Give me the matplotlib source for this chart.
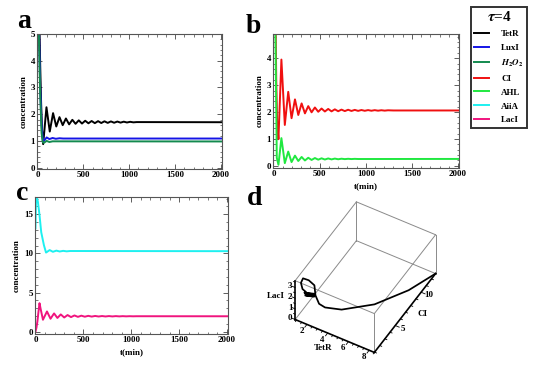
import matplotlib
matplotlib.use("Agg")
import matplotlib.pyplot as plt
import numpy as np
from mpl_toolkits.mplot3d import proj3d

plt.rcParams['font.family'] = ['Liberation Serif', 'DejaVu Serif']
plt.rcParams['font.weight'] = 'bold'
plt.rcParams['mathtext.fontset'] = 'stix'

# ---- panel a: TetR, LuxI, H2O2 (values read at turning points) ----
t_tetr = [0, 10, 20, 30, 40, 50, 62, 98, 134, 170, 205, 240, 275, 310, 345, 380, 415,
          450, 485, 520, 555, 590, 625, 660, 695, 730, 765, 800, 835, 870, 905, 940,
          975, 1010, 1045, 1080, 2000]
tetr = [8.5, 7.5, 5.6, 3.8, 2.4, 1.4, 0.88, 2.26, 1.35, 2.04, 1.54, 1.89, 1.59, 1.84,
        1.62, 1.79, 1.64, 1.77, 1.65, 1.755, 1.66, 1.745, 1.665, 1.74, 1.67, 1.735,
        1.675, 1.73, 1.68, 1.725, 1.685, 1.72, 1.69, 1.715, 1.695, 1.705, 1.70]
t_luxi = [0, 15, 30, 45, 58, 70, 100, 130, 165, 200, 240, 280, 2000]
luxi = [7.0, 5.5, 3.0, 1.6, 1.1, 1.0, 1.13, 1.07, 1.11, 1.08, 1.10, 1.09, 1.09]
t_h2o2 = [0, 15, 30, 45, 58, 70, 100, 130, 165, 2000]
h2o2 = [6.5, 5.0, 2.7, 1.3, 0.95, 0.93, 1.0, 0.96, 0.985, 0.98]

# ---- panel b: CI, AHL ----
t_ci = [0, 10, 20, 30, 40, 54, 86, 123, 160, 196, 233, 269, 305, 341, 377, 413, 449,
        485, 521, 557, 593, 629, 665, 701, 737, 773, 809, 845, 881, 917, 953, 989,
        1025, 1061, 1097, 1133, 1169, 1205, 1241, 1300, 2000]
ci = [12.8, 10.5, 6.5, 3.2, 1.6, 0.99, 3.95, 1.52, 2.75, 1.77, 2.47, 1.89, 2.32, 1.95,
      2.22, 1.99, 2.17, 2.01, 2.13, 2.02, 2.115, 2.025, 2.10, 2.03, 2.09, 2.035, 2.085,
      2.04, 2.08, 2.043, 2.075, 2.046, 2.072, 2.048, 2.07, 2.05, 2.067, 2.052, 2.065,
      2.058, 2.058]
t_ahl = [0, 18, 36, 54, 86, 123, 160, 196, 233, 269, 305, 341, 377, 413, 449, 485, 521,
         557, 593, 629, 665, 701, 737, 773, 809, 845, 881, 917, 2000]
ahl = [8.0, 6.0, 0.3, 0.04, 1.03, 0.10, 0.53, 0.14, 0.38, 0.18, 0.33, 0.20, 0.30, 0.22,
       0.29, 0.23, 0.28, 0.235, 0.275, 0.24, 0.27, 0.245, 0.265, 0.25, 0.262, 0.252,
       0.26, 0.254, 0.257]

# ---- panel c: AiiA, LacI ----
t_aiia = [0, 5, 15, 25, 42, 60, 88, 110, 148, 182, 218, 253, 289, 325, 361, 2000]
aiia = [13.2, 16.5, 17.15, 16.6, 14.9, 12.7, 11.05, 10.1, 10.42, 10.2, 10.35, 10.24,
        10.32, 10.26, 10.3, 10.28]
t_laci = [0, 10, 20, 30, 42, 54, 78, 120, 157, 194, 229, 264, 300, 335, 371, 407, 443,
          479, 515, 551, 587, 623, 659, 695, 731, 767, 803, 839, 875, 911, 947, 983,
          1019, 1055, 2000]
laci = [0.0, 0.5, 1.3, 2.4, 3.64, 2.9, 1.52, 2.58, 1.65, 2.33, 1.75, 2.20, 1.81, 2.12,
        1.86, 2.07, 1.89, 2.04, 1.91, 2.02, 1.925, 2.005, 1.935, 1.995, 1.94, 1.99,
        1.945, 1.985, 1.95, 1.98, 1.955, 1.975, 1.96, 1.97, 1.965]

d_tetr = [8.5, 7.6, 6.0, 4.05, 2.9, 2.5, 2.3, 2.2, 1.8, 1.3, 1.2, 1.3, 1.5,
          1.20, 1.70, 2.14, 1.70, 1.32, 1.70, 2.03, 1.70, 1.41, 1.70, 1.95, 1.70,
          1.49, 1.70, 1.88, 1.70, 1.55, 1.70, 1.82, 1.70, 1.60, 1.70, 1.76, 1.70,
          1.66, 1.70, 1.73, 1.70]
d_ci = [12.8, 9.4, 6.0, 3.55, 2.65, 2.3, 2.0, 2.0, 1.7, 1.6, 1.4, 1.5, 1.8,
        2.06, 3.01, 2.06, 1.24, 2.06, 2.77, 2.06, 1.44, 2.06, 2.52, 2.06, 1.66,
        2.06, 2.40, 2.06, 1.78, 2.06, 2.29, 2.06, 1.88, 2.06, 2.20, 2.06, 1.96,
        2.06, 2.11, 2.06, 2.06]
d_laci = [0.0, 0.2, 0.35, 0.6, 0.9, 1.3, 2.2, 3.1, 3.6, 3.64, 3.3, 2.7, 2.3,
          1.97, 1.47, 1.97, 2.41, 1.97, 1.59, 1.97, 2.30, 1.97, 1.72, 1.97, 2.18,
          1.97, 1.79, 1.97, 2.12, 1.97, 1.85, 1.97, 2.07, 1.97, 1.89, 1.97, 2.01,
          1.97, 1.94, 1.97, 1.97]

colors = {'TetR': 'black', 'LuxI': '#1414e6', 'H2O2': '#138a4f', 'CI': '#f01010',
          'AHL': '#20e840', 'AiiA': '#1ef0f0', 'LacI': '#f0147e'}

fig = plt.figure(figsize=(5.44, 3.67), dpi=100)


def style(ax, ymajor, yminor, ylim, xlabel=True):
    ax.set_xlim(-5, 2010)
    ax.set_ylim(*ylim)
    ax.set_xticks([0, 500, 1000, 1500, 2000])
    ax.set_xticks(np.arange(0, 2001, 100), minor=True)
    ax.set_yticks(ymajor)
    ax.set_yticks(yminor, minor=True)
    ax.tick_params(which='both', direction='in', top=True, right=True,
                   labelsize=6.5, pad=1.5, color='#444444')
    ax.tick_params(which='major', length=3.5, width=0.6)
    ax.tick_params(which='minor', length=1.8, width=0.5)
    for s in ax.spines.values():
        s.set_color('#555555')
        s.set_linewidth(0.8)
    ax.set_ylabel('concentration', fontsize=6.5, fontweight='bold', labelpad=2)
    if xlabel:
        ax.set_xlabel('t(min)', fontsize=6.5, fontweight='bold', labelpad=3)


lw = 1.4
ax_a = fig.add_axes([37/544, 1-169/367, 185/544, 135/367])
la1, = ax_a.plot(t_tetr, tetr, color=colors['TetR'], lw=lw)
la2, = ax_a.plot(t_luxi, luxi, color=colors['LuxI'], lw=lw)
la3, = ax_a.plot(t_h2o2, h2o2, color=colors['H2O2'], lw=lw)
style(ax_a, [0, 1, 2, 3, 4, 5], np.arange(0, 5.01, 0.2), (-0.05, 5.0), xlabel=False)

ax_b = fig.add_axes([273/544, 1-168/367, 186/544, 134/367])
lb1, = ax_b.plot(t_ci, ci, color=colors['CI'], lw=lw)
lb2, = ax_b.plot(t_ahl, ahl, color=colors['AHL'], lw=lw)
style(ax_b, [0, 1, 2, 3, 4], np.arange(0, 4.9, 0.2), (-0.08, 4.9))

ax_c = fig.add_axes([35/544, 1-334/367, 193/544, 137/367])
lc1, = ax_c.plot(t_aiia, aiia, color=colors['AiiA'], lw=lw)
lc2, = ax_c.plot(t_laci, laci, color=colors['LacI'], lw=lw)
style(ax_c, [0, 5, 10, 15], np.arange(0, 17.1, 1), (-0.3, 17.2))

# ---- 3D phase plot ----
ax_d = fig.add_axes([248/544, 0.0, 230/544, 175/367], projection='3d')
ax_d.set_proj_type('ortho')
ax_d.view_init(elev=47, azim=-60.4)
x0, x1 = 0.86, max(d_tetr)
y0, y1 = 0.96, max(d_ci)
z0, z1 = 0.0, max(d_laci)
ax_d.set_xlim(x0, x1)
ax_d.set_ylim(y0, y1)
ax_d.set_zlim(z0, z1)
ax_d.set_box_aspect((94.4, 128.5, 59), zoom=0.91)
ax_d.set_axis_off()

gray = '#8a8a8a'
edges_gray = [((x0, x0), (y1, y1), (z0, z1)), ((x1, x1), (y1, y1), (z0, z1)),
              ((x0, x1), (y1, y1), (z0, z0)), ((x0, x0), (y0, y1), (z0, z0)),
              ((x0, x1), (y0, y0), (z1, z1)), ((x0, x1), (y1, y1), (z1, z1)),
              ((x0, x0), (y0, y1), (z1, z1)), ((x1, x1), (y0, y1), (z1, z1)),
              ((x1, x1), (y0, y0), (z0, z1))]
for ex, ey, ez in edges_gray:
    ax_d.plot(ex, ey, ez, color=gray, lw=0.7)
ax_d.plot(d_tetr, d_ci, d_laci, color='black', lw=1.25)
# axes with ticks
ax_d.plot((x0, x1), (y0, y0), (z0, z0), color='black', lw=1.2)
ax_d.plot((x1, x1), (y0, y1), (z0, z0), color='black', lw=1.2)
ax_d.plot((x0, x0), (y0, y0), (z0, z1), color='black', lw=1.2)

fs3 = 6.5
dy = (y1 - y0)
dx = (x1 - x0)
for v in np.arange(1, 8.6, 0.5):
    L = 0.035 if v % 2 == 0 else 0.018
    ax_d.plot((v, v), (y0, y0 - L*dy), (z0, z0), color='black', lw=0.6)
for v in np.arange(1, 12.8, 1):
    L = 0.05 if v % 5 == 0 else 0.025
    ax_d.plot((x1, x1 + L*dx), (v, v), (z0, z0), color='black', lw=0.6)
for v in np.arange(0, 3.61, 0.5):
    L = 0.04 if v % 1 == 0 else 0.02
    ax_d.plot((x0, x0 - L*dx), (y0, y0), (v, v), color='black', lw=0.6)

# labels of the 3D box, placed as flat figure text at projected positions
labels3d = [(v, y0 - 0.085*dy, z0, str(v), 'center') for v in [2, 4, 6, 8]]
labels3d.append((4.5, y0 - 0.165*dy, z0, 'TetR', 'center'))
labels3d += [(x1 + 0.095*dx, v, z0, str(v), 'center') for v in [5, 10]]
labels3d.append((x1 + 0.17*dx, 7.6, z0, 'CI', 'center'))
labels3d += [(x0 - 0.035*dx, y0, v, str(v), 'right') for v in [0, 1, 2, 3]]
labels3d.append((x0 - 0.13*dx, y0, 1.85, 'LacI', 'right'))

fig.canvas.draw()
for (lx, ly, lz, s, ha) in labels3d:
    X, Y, _ = proj3d.proj_transform(lx, ly, lz, ax_d.get_proj())
    fx, fy = fig.transFigure.inverted().transform(ax_d.transData.transform((X, Y)))
    fig.text(fx, fy, s, fontsize=fs3, ha=ha, va='center')

# panel letters
for lab, (px, py) in zip('abcd', [(17, 28), (246, 33), (16, 200), (247, 205)]):
    fig.text(px/544, 1-py/367, lab, fontsize=20, fontweight='bold', ha='left', va='baseline')

# legend
handles = [la1, la2, la3, lb1, lb2, lc1, lc2]
labels = ['TetR', 'LuxI', '$H_2O_2$', 'CI', 'AHL', 'AiiA', 'LacI']
leg = fig.legend(handles, labels, loc='upper left', bbox_to_anchor=(471/544, 1-7/367),
                 title=r'$\tau$=4', title_fontsize=11, fontsize=6.5, frameon=True,
                 fancybox=False, handlelength=1.6, handletextpad=1.4, labelspacing=0.62,
                 borderpad=0.35, borderaxespad=0)
leg.get_frame().set_edgecolor('black')
leg.get_frame().set_linewidth(1.4)

fig.savefig('out.png', dpi=100)
